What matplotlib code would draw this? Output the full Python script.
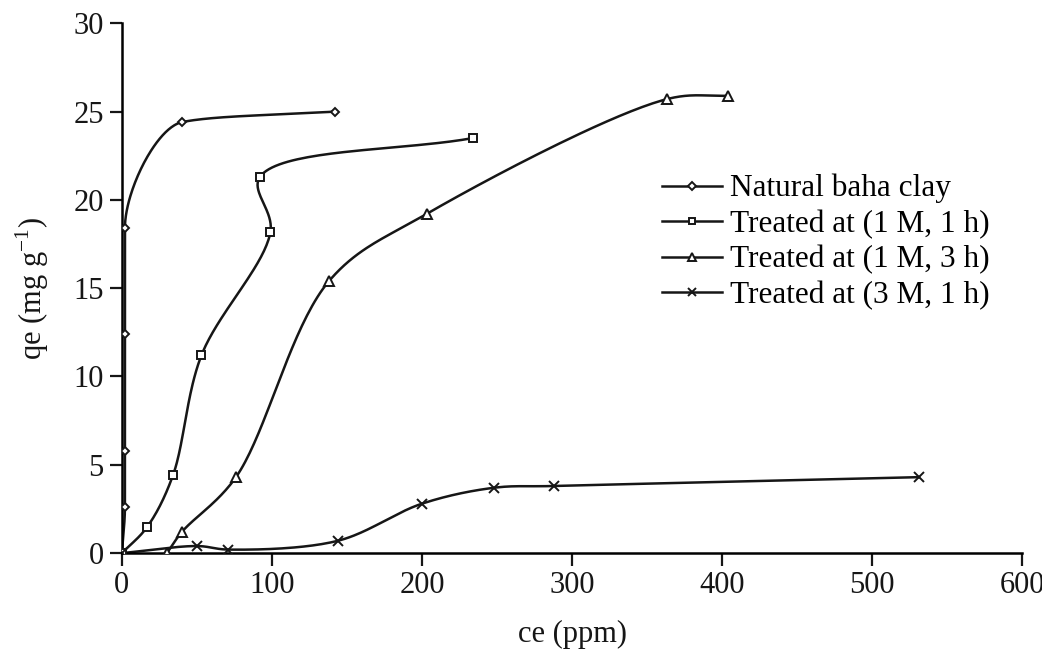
import numpy as np
import matplotlib
matplotlib.use("Agg")
import matplotlib.pyplot as plt

plt.rcParams['font.family'] = ['Liberation Serif', 'DejaVu Serif']
plt.rcParams['mathtext.fontset'] = 'custom'
plt.rcParams['mathtext.rm'] = 'Liberation Serif'

# data
natural_ce = [0, 2, 2, 2, 2, 40, 142]
natural_qe = [0, 2.6, 5.8, 12.4, 18.4, 24.4, 25.0]

t11_ce = [0, 17, 34, 53, 99, 92, 234]
t11_qe = [0, 1.5, 4.4, 11.2, 18.2, 21.3, 23.5]

t13_ce = [30, 40, 76, 138, 203, 363, 404]
t13_qe = [0, 1.2, 4.3, 15.4, 19.2, 25.7, 25.9]

t31_ce = [0, 50, 71, 144, 200, 248, 288, 531]
t31_qe = [0, 0.4, 0.2, 0.7, 2.8, 3.7, 3.8, 4.3]

labels = ["Natural baha clay", "Treated at (1 M, 1 h)",
          "Treated at (1 M, 3 h)", "Treated at (3 M, 1 h)"]

SX, SY = 1.5, 17.67  # rough px per unit, so both axes weigh alike


def catmull(x, y, n=40):
    # centripetal catmull-rom through the points
    p = np.column_stack((np.asarray(x, float) * SX, np.asarray(y, float) * SY))
    p = np.vstack((2 * p[0] - p[1], p, 2 * p[-1] - p[-2]))
    out = []
    for i in range(1, len(p) - 2):
        p0, p1, p2, p3 = p[i - 1], p[i], p[i + 1], p[i + 2]
        t0 = 0.0
        t1 = t0 + max(np.linalg.norm(p1 - p0), 1e-6) ** 0.5
        t2 = t1 + max(np.linalg.norm(p2 - p1), 1e-6) ** 0.5
        t3 = t2 + max(np.linalg.norm(p3 - p2), 1e-6) ** 0.5
        t = np.linspace(t1, t2, n)[:, None]
        a1 = (t1 - t) / (t1 - t0) * p0 + (t - t0) / (t1 - t0) * p1
        a2 = (t2 - t) / (t2 - t1) * p1 + (t - t1) / (t2 - t1) * p2
        a3 = (t3 - t) / (t3 - t2) * p2 + (t - t2) / (t3 - t2) * p3
        b1 = (t2 - t) / (t2 - t0) * a1 + (t - t0) / (t2 - t0) * a2
        b2 = (t3 - t) / (t3 - t1) * a2 + (t - t1) / (t3 - t1) * a3
        c = (t2 - t) / (t2 - t1) * b1 + (t - t1) / (t2 - t1) * b2
        out.append(c)
    c = np.vstack(out)
    return c[:, 0] / SX, c[:, 1] / SY


def pchip(t, v, tt):
    # fritsch-carlson monotone cubic
    t = np.asarray(t, float); v = np.asarray(v, float)
    h = np.diff(t); d = np.diff(v) / h
    m = np.zeros_like(v)
    for k in range(1, len(v) - 1):
        if d[k - 1] * d[k] > 0:
            w1 = 2 * h[k] + h[k - 1]; w2 = h[k] + 2 * h[k - 1]
            m[k] = (w1 + w2) / (w1 / d[k - 1] + w2 / d[k])
    m[0] = d[0]; m[-1] = d[-1]
    k = np.clip(np.searchsorted(t, tt) - 1, 0, len(h) - 1)
    s = (tt - t[k]) / h[k]
    h00 = 2 * s**3 - 3 * s**2 + 1; h10 = s**3 - 2 * s**2 + s
    h01 = -2 * s**3 + 3 * s**2; h11 = s**3 - s**2
    return h00 * v[k] + h10 * h[k] * m[k] + h01 * v[k + 1] + h11 * h[k] * m[k + 1]


def monotone(x, y, n=400):
    px = np.asarray(x, float) * SX; py = np.asarray(y, float) * SY
    t = np.concatenate(([0], np.cumsum(np.hypot(np.diff(px), np.diff(py)))))
    tt = np.linspace(0, t[-1], n)
    return pchip(t, px, tt) / SX, pchip(t, py, tt) / SY


fig = plt.figure(figsize=(10.42, 6.64), dpi=100)
ax = fig.add_axes([0.117, 0.167, 0.864, 0.798])

col = "#161616"
series = [(natural_ce, natural_qe, "D", 4.5, monotone),
          (t11_ce, t11_qe, "s", 6, catmull),
          (t13_ce, t13_qe, "^", 6.5, catmull),
          (t31_ce, t31_qe, "x", 7.5, catmull)]
for (x, y, m, ms, fn), lab in zip(series, labels):
    sx, sy = fn(x, y)
    ax.plot(sx, sy, color=col, lw=1.8, zorder=2)
    ax.plot(x, y, ls="none", marker=m, ms=ms, mfc="white", mec=col, mew=1.4, zorder=3)
    ax.plot([], [], color=col, lw=1.8, marker=m, ms=ms * 0.8, mfc="white",
            mec=col, mew=1.4, label=lab)

ax.set_xlim(0, 600)
ax.set_ylim(0, 30)
ax.set_xticks(range(0, 601, 100))
ax.set_yticks(range(0, 31, 5))
ax.spines['top'].set_visible(False)
ax.spines['right'].set_visible(False)
ax.spines['left'].set_linewidth(1.8)
ax.spines['bottom'].set_linewidth(1.8)
ax.tick_params(labelsize=22, width=1.6, length=9, colors=col, pad=4)
ax.set_xlabel("ce (ppm)", fontsize=22, color=col, labelpad=14)
ax.set_ylabel(r"qe (mg g$^{-1}$)", fontsize=22, color=col, labelpad=16)

ax.legend(loc="upper left", bbox_to_anchor=(0.635, 0.738), bbox_transform=fig.transFigure,
          frameon=False, fontsize=22.5, handlelength=1.92, handletextpad=0.28,
          labelspacing=0.2, borderaxespad=0, borderpad=0)

fig.savefig("out.png", dpi=100)
